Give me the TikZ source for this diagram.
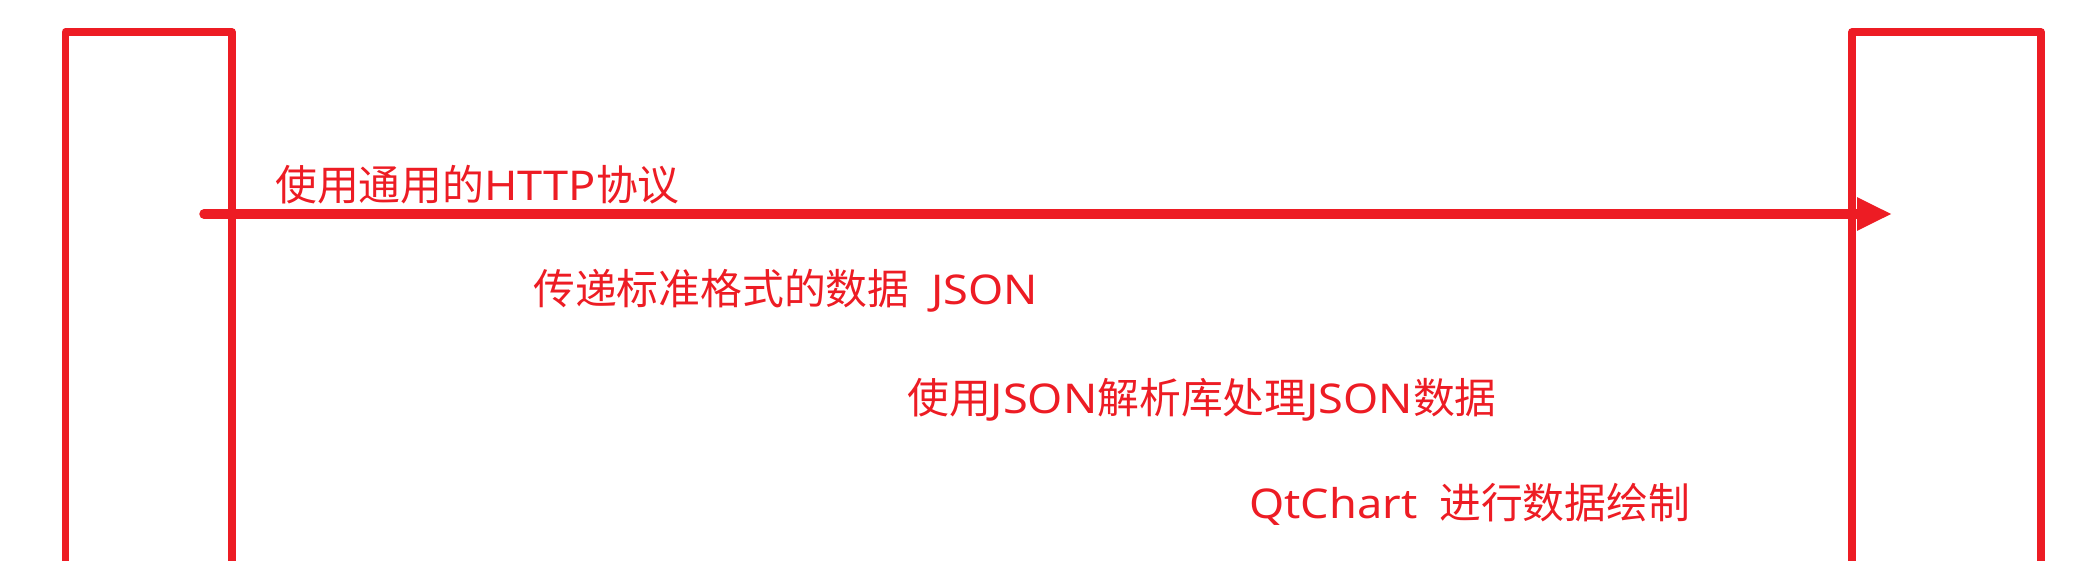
\documentclass[tikz,border=0pt]{standalone}
\usepackage{fontspec}
\setmainfont{Noto Sans}[FakeStretch=1.1]
\newfontfamily\cjk{Noto Sans CJK SC}[Scale=1.02]
\usetikzlibrary{arrows.meta}
\definecolor{pred}{HTML}{ED1C24}
\tikzset{
  boxline/.style={draw=pred, line width=7.5pt, line join=round},
  msgarrow/.style={draw=pred, line width=9.5pt, line cap=round, -{Triangle[length=35pt,width=31pt]}},
  lbl/.style={anchor=base west, inner sep=0pt, text=pred, font=\fontsize{41}{49}\selectfont}
}
\begin{document}
\begin{tikzpicture}[x=1pt,y=-1pt]
\useasboundingbox (0,0) rectangle (2085,561);
% left open box
\draw[boxline] (65.5,575) -- (65.5,32) -- (232,32) -- (232,575);
% right open box
\draw[boxline] (1852,575) -- (1852,32) -- (2041,32) -- (2041,575);
% arrow
\coordinate (a1) at (204,214);
\coordinate (a2) at (1892,214);
\draw[msgarrow] (a1) -- (a2);
% labels
\node[lbl] (t1) at (275,201) {{\cjk 使用通用的}HTTP{\cjk 协议}};
\node[lbl] (t2) at (533,305) {{\cjk 传递标准格式的数据}\hspace{22pt}JSON};
\node[lbl] (t3) at (907,413) {{\cjk 使用}JSON{\cjk 解析库处理}JSON{\cjk 数据}};
\node[lbl] (t4) at (1249,518) {QtChart\hspace{22pt}{\cjk 进行数据绘制}};
\end{tikzpicture}
\end{document}
